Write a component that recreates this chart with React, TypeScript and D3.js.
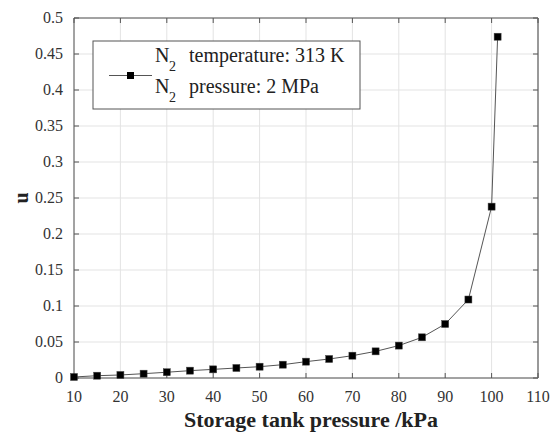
import React from "react";
import * as d3 from "d3";

const pressures = [10, 15, 20, 25, 30, 35, 40, 45, 50, 55, 60, 65, 70, 75, 80, 85, 90, 95, 100, 101.3];
const uValues = [0.0014, 0.0032, 0.0042, 0.006, 0.008, 0.0102, 0.012, 0.0139, 0.0157, 0.0185, 0.0227, 0.0264, 0.031, 0.037, 0.045, 0.0565, 0.075, 0.109, 0.238, 0.474];
const xTicks = [10, 20, 30, 40, 50, 60, 70, 80, 90, 100, 110];
const yTicks = [0, 0.05, 0.1, 0.15, 0.2, 0.25, 0.3, 0.35, 0.4, 0.45, 0.5];

const W = 550, H = 435;
const L = 74, R = 538, T = 18, B = 378;
const ts: React.CSSProperties = { fontFamily: "Liberation Serif, serif" };

export default function App() {
  const x = d3.scaleLinear().domain([10, 110]).range([L, R]);
  const y = d3.scaleLinear().domain([0, 0.5]).range([B, T]);
  const pts = pressures.map((p, i) => [p, uValues[i]] as [number, number]);
  const line = d3.line<[number, number]>().x(d => x(d[0])).y(d => y(d[1]));
  const fmtY = (v: number) => (v === 0 ? "0" : String(+v.toFixed(2)));
  return (
    <svg width={W} height={H} style={{ position: "absolute", left: 0, top: 0, background: "#fff" }}>
      <rect x={0} y={0} width={W} height={H} fill="#fff" />
      {xTicks.map(t => (
        <line key={"gx" + t} x1={x(t)} x2={x(t)} y1={T} y2={B} stroke="#e3e3e3" strokeWidth={1} />
      ))}
      {yTicks.map(t => (
        <line key={"gy" + t} x1={L} x2={R} y1={y(t)} y2={y(t)} stroke="#e3e3e3" strokeWidth={1} />
      ))}
      <line x1={L} x2={R} y1={T} y2={T} stroke="#555" strokeWidth={1} />
      <line x1={L} x2={R} y1={B} y2={B} stroke="#555" strokeWidth={1} />
      <line x1={L} x2={L} y1={T} y2={B} stroke="#555" strokeWidth={1} />
      <line x1={R} x2={R} y1={T} y2={B} stroke="#999" strokeWidth={2} />
      {xTicks.map(t => (
        <g key={"tx" + t}>
          <line x1={x(t)} x2={x(t)} y1={B} y2={B - 5} stroke="#555" />
          <line x1={x(t)} x2={x(t)} y1={T} y2={T + 5} stroke="#555" />
          <text x={x(t)} y={402} textAnchor="middle" fontSize={16} fill="#333" style={ts}>{t}</text>
        </g>
      ))}
      {yTicks.map(t => (
        <g key={"ty" + t}>
          <line x1={L} x2={L + 5} y1={y(t)} y2={y(t)} stroke="#555" />
          <line x1={R} x2={R - 5} y1={y(t)} y2={y(t)} stroke="#555" />
          <text x={63} y={y(t) + 5} textAnchor="end" fontSize={16} fill="#333" style={ts}>{fmtY(t)}</text>
        </g>
      ))}
      <path d={line(pts) || ""} fill="none" stroke="#555" strokeWidth={1} />
      {pts.map((d, i) => (
        <rect key={"m" + i} x={x(d[0]) - 3.5} y={y(d[1]) - 3.5} width={7} height={7} fill="#000" stroke="#444" strokeWidth={0.5} />
      ))}
      <text x={311} y={427} textAnchor="middle" fontSize={22} fontWeight="bold" fill="#222" style={ts}>Storage tank pressure /kPa</text>
      <text transform={`translate(28,${(T + B) / 2}) rotate(-90)`} textAnchor="middle" fontSize={20} fontWeight="bold" fill="#222" style={ts}>u</text>
      <rect x={93} y={41} width={267} height={68} fill="#fff" stroke="#555" strokeWidth={1} />
      <line x1={109} x2={152} y1={75.5} y2={75.5} stroke="#555" strokeWidth={1} />
      <rect x={127} y={72} width={7} height={7} fill="#000" />
      <text x={155} y={62} fontSize={20} fill="#222" style={ts}>N</text>
      <text x={169} y={71} fontSize={14} fill="#222" style={ts}>2</text>
      <text x={189} y={62} fontSize={20} fill="#222" style={ts}>temperature: 313 K</text>
      <text x={155} y={93} fontSize={20} fill="#222" style={ts}>N</text>
      <text x={169} y={102} fontSize={14} fill="#222" style={ts}>2</text>
      <text x={189} y={93} fontSize={20} fill="#222" style={ts}>pressure: 2 MPa</text>
    </svg>
  );
}
